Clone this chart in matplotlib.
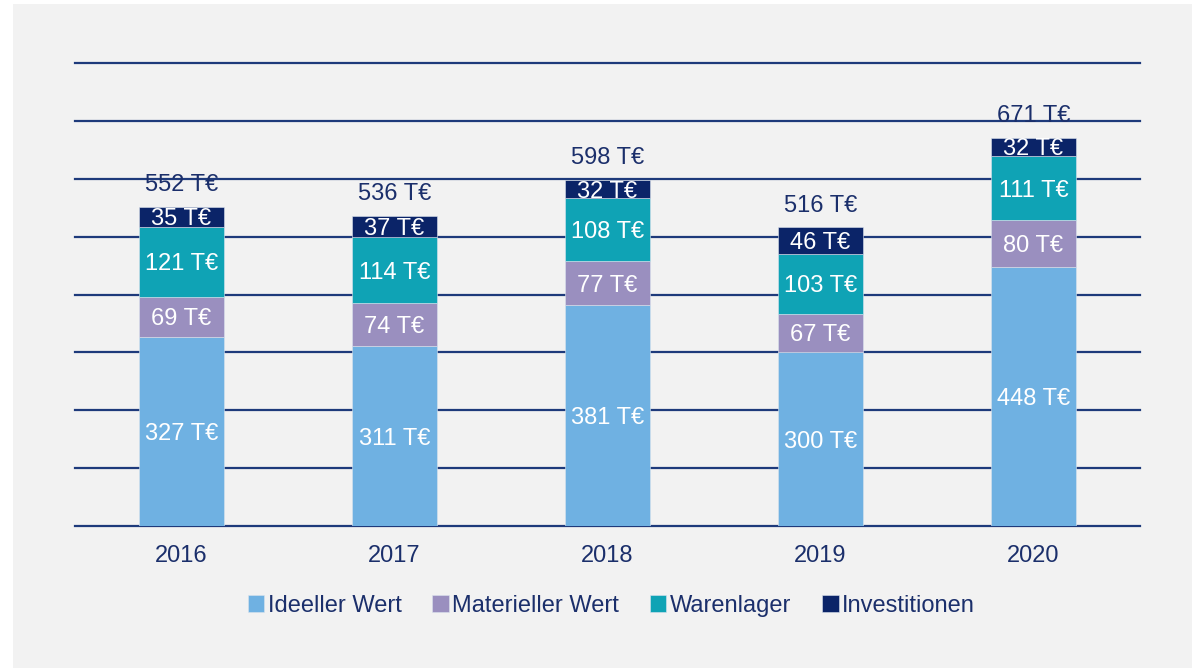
import matplotlib.pyplot as plt
from matplotlib.patches import Rectangle
import numpy as np

plt.rcParams['font.family'] = ['Liberation Sans', 'DejaVu Sans']

years = ["2016", "2017", "2018", "2019", "2020"]
ideeller = [327, 311, 381, 300, 448]
materieller = [69, 74, 77, 67, 80]
warenlager = [121, 114, 108, 103, 111]
investitionen = [35, 37, 32, 46, 32]
totals = [552, 536, 598, 516, 671]

series = [
    ("Ideeller Wert", ideeller, "#6fb1e2"),
    ("Materieller Wert", materieller, "#9a8fbf"),
    ("Warenlager", warenlager, "#0fa3b5"),
    ("Investitionen", investitionen, "#0b2468"),
]
navy = "#1b2f6b"
grid_c = "#1e3a7b"


def main():
    fig = plt.figure(figsize=(11.94, 6.68), dpi=100, facecolor="white")
    fig.patches.append(Rectangle((13 / 1194, 0), (1192 - 13) / 1194, 1 - 4 / 668,
                                 transform=fig.transFigure, facecolor="#f2f2f2",
                                 edgecolor="none", zorder=-5))
    ax = fig.add_axes([75 / 1194, 1 - 526 / 668, (1140 - 75) / 1194, (526 - 63) / 668])
    ax.set_facecolor("none")
    ax.set_zorder(2)

    x = np.arange(len(years))
    bottom = np.zeros(len(years))
    for name, vals, col in series:
        vals = np.array(vals)
        ax.bar(x, vals, 0.40, bottom=bottom, color=col, label=name, zorder=3,
               edgecolor="#dbe3ee", linewidth=0.4)
        for xi, b, v in zip(x, bottom, vals):
            ax.text(xi, b + v / 2, f"{v} T€", ha="center", va="center_baseline",
                    color="white", fontsize=17, zorder=4)
        bottom += vals

    for xi, b, t in zip(x, bottom, totals):
        ax.text(xi, b + 42, f"{t} T€", ha="center", va="center_baseline",
                color=navy, fontsize=17, zorder=4)

    ax.set_xlim(-0.5, len(years) - 0.5)
    ax.set_ylim(0, 800)
    ax.set_yticks(np.arange(0, 801, 100))
    ax.yaxis.grid(True, color=grid_c, linewidth=1.6, zorder=1)
    for gl in ax.get_ygridlines():
        gl.set_clip_on(False)
    ax.set_axisbelow(True)
    ax.tick_params(axis="y", left=False, labelleft=False)
    ax.tick_params(axis="x", bottom=False, labelsize=17, labelcolor=navy, pad=10)
    ax.set_xticks(x)
    ax.set_xticklabels(years)
    for s in ax.spines.values():
        s.set_visible(False)

    handles, labels = ax.get_legend_handles_labels()
    leg = fig.legend(handles, labels, loc="center", bbox_to_anchor=(0.512, 1 - 606 / 668),
                     ncol=4, frameon=False, fontsize=17, handlelength=0.7,
                     handleheight=0.7, handletextpad=0.15, columnspacing=1.3)
    for t in leg.get_texts():
        t.set_color(navy)

    fig.savefig("out.png", dpi=100)


if __name__ == "__main__":
    main()
